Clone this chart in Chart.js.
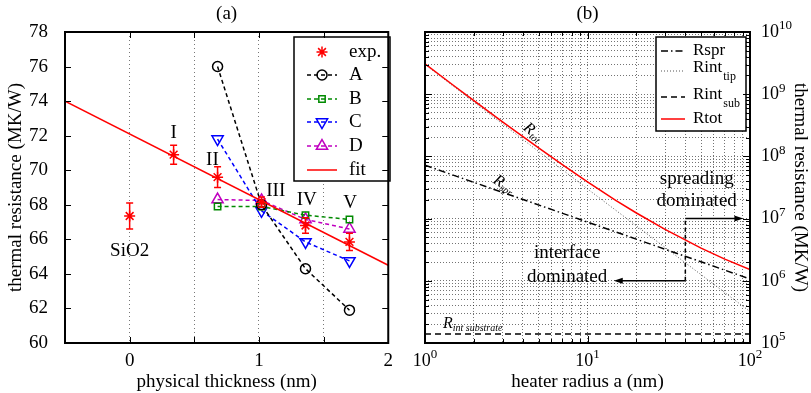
<!DOCTYPE html>
<html lang="en">
<head>
<meta charset="UTF-8">
<title>Thermal resistance</title>
<script src="https://cdn.jsdelivr.net/npm/chart.js"></script>
<style>
    body { margin: 0; background: #fff; }
    #wrap { position: relative; width: 811px; height: 393px; }
    .panel { position: absolute; top: 0; height: 393px; }
    #pa { left: 0; width: 400px; }
    #pb { left: 400px; width: 411px; }
    canvas { display: block; }
</style>
</head>
<body>
<div id="wrap">
    <div class="panel" id="pa"><canvas id="chartA"></canvas></div>
    <div class="panel" id="pb"><canvas id="chartB"></canvas></div>
</div>
<script>
// ---------- panel (a): thermal resistance vs physical thickness ----------
const expX = [0, 0.34, 0.68, 1.02, 1.36, 1.70];
const expR = [67.35, 70.9, 69.6, 68.15, 66.8, 65.85];
const expErr = [0.75, 0.55, 0.6, 0.3, 0.45, 0.5];

const modelX = [0.68, 1.02, 1.36, 1.70];
const modelA = [76.0, 68.0, 64.3, 61.9];
const modelB = [67.9, 67.9, 67.4, 67.15];
const modelC = [71.8, 67.65, 65.85, 64.75];
const modelD = [68.3, 68.25, 67.15, 66.6];

const fitX = [-0.5, 2];
const fitR = [74.0, 64.5];

const thickTicks = [-0.5, 0, 0.5, 1, 1.5, 2];
const thickLabels = ['', '0', '', '1', '', '2'];
const resTicks = [60, 62, 64, 66, 68, 70, 72, 74, 76, 78];

// ---------- panel (b): resistance vs heater radius ----------
const radius = [1, 1.5, 2, 3, 5, 7, 10, 15, 20, 30, 50, 70, 100];
const rTot = [3.07e9, 1.38e9, 7.9e8, 3.6e8, 1.37e8, 7.35e7, 3.9e7, 1.95e7, 1.23e7, 6.7e6, 3.35e6, 2.23e6, 1.51e6];
const sprRadius = [1, 10, 100];
const rSpr = [7.2e7, 8.8e6, 1.07e6];
const tipRadius = [1, 10, 100];
const rTip = [3.0e9, 3.0e7, 3.2e5];
const subRadius = [1, 100];
const rSub = [1.4e5, 1.4e5];

const radiusDecades = [1, 10, 100];
const resDecades = [1e5, 1e6, 1e7, 1e8, 1e9, 1e10];
const minorSteps = [2, 3, 4, 5, 6, 7, 8, 9];

const FONT = "'Liberation Serif', 'Times New Roman', serif";
const RED = '#ff0000', GREEN = '#008a00', BLUE = '#0000ff', MAGENTA = '#c000c0';

function pts(xs, ys) {
    return xs.map((x, i) => ({ x: x, y: ys[i] }));
}

function logTicks(decades) {
    const out = [];
    decades.forEach((d, i) => {
        out.push({ value: d });
        if (i < decades.length - 1) {
            minorSteps.forEach(m => out.push({ value: d * m }));
        }
    });
    return out;
}

function isDecade(v) {
    const l = Math.log10(v);
    return Math.abs(l - Math.round(l)) < 1e-9;
}

// frame + inward tick marks on all four sides
function makeFrame(tickLen) {
    return {
        id: 'frame',
        afterDraw(chart) {
            const { ctx, chartArea: a } = chart;
            const xs = chart.scales.x, ys = chart.scales.y;
            ctx.save();
            ctx.strokeStyle = '#000';
            ctx.lineWidth = 1;
            ctx.beginPath();
            xs.ticks.forEach(t => {
                const len = tickLen(xs, t.value);
                const px = Math.round(xs.getPixelForValue(t.value)) + 0.5;
                ctx.moveTo(px, a.bottom); ctx.lineTo(px, a.bottom - len);
                ctx.moveTo(px, a.top); ctx.lineTo(px, a.top + len);
            });
            ys.ticks.forEach(t => {
                const len = tickLen(ys, t.value);
                const py = Math.round(ys.getPixelForValue(t.value)) + 0.5;
                ctx.moveTo(a.left, py); ctx.lineTo(a.left + len, py);
                ctx.moveTo(a.right, py); ctx.lineTo(a.right - len, py);
            });
            ctx.stroke();
            ctx.lineWidth = 2;
            ctx.strokeRect(a.left, a.top, a.right - a.left, a.bottom - a.top);
            ctx.restore();
        }
    };
}

function drawMarker(ctx, ds, x, y) {
    if (!ds.pointRadius) return;
    ctx.save();
    ctx.strokeStyle = ds.borderColor;
    ctx.fillStyle = ds.pointBackgroundColor || 'rgba(0,0,0,0)';
    ctx.lineWidth = ds.pointBorderWidth || 1.5;
    ctx.setLineDash([]);
    Chart.helpers.drawPoint(ctx, {
        pointStyle: ds.pointStyle,
        rotation: ds.pointRotation || 0,
        radius: ds.pointRadius,
        borderWidth: ds.pointBorderWidth || 1.5
    }, x, y);
    ctx.restore();
}

// boxed legend in the gnuplot way: sample line (with marker) then text
function makeLegend(box, rows) {
    return {
        id: 'boxLegend',
        afterDatasetsDraw(chart) {
            const ctx = chart.ctx;
            ctx.save();
            ctx.fillStyle = '#fff';
            ctx.fillRect(box.x, box.y, box.w, box.h);
            ctx.strokeStyle = '#000';
            ctx.lineWidth = 1.5;
            ctx.strokeRect(box.x, box.y, box.w, box.h);
            rows.forEach(r => {
                const ds = chart.data.datasets.find(d => d.label === r.label);
                if (ds.showLine !== false) {
                    ctx.save();
                    ctx.strokeStyle = ds.borderColor;
                    ctx.lineWidth = ds.borderWidth;
                    ctx.setLineDash(ds.borderDash || []);
                    ctx.beginPath();
                    ctx.moveTo(box.lineX0, r.lineY);
                    ctx.lineTo(box.lineX1, r.lineY);
                    ctx.stroke();
                    ctx.restore();
                }
                drawMarker(ctx, ds, (box.lineX0 + box.lineX1) / 2, r.lineY);
                ctx.fillStyle = '#000';
                ctx.textAlign = 'left';
                ctx.textBaseline = 'middle';
                ctx.font = box.font + 'px ' + FONT;
                ctx.fillText(r.text, box.textX, r.textY);
                if (r.sub) {
                    const w = ctx.measureText(r.text).width;
                    ctx.font = '12px ' + FONT;
                    ctx.fillText(r.sub, box.textX + w + 1, r.textY + 9);
                }
            });
            ctx.restore();
        }
    };
}

function panelTitle(text) {
    return {
        id: 'panelTitle',
        afterDraw(chart) {
            const { ctx, chartArea: a } = chart;
            ctx.save();
            ctx.fillStyle = '#000';
            ctx.font = '19px ' + FONT;
            ctx.textAlign = 'center';
            ctx.textBaseline = 'middle';
            ctx.fillText(text, (a.left + a.right) / 2, 14);
            ctx.restore();
        }
    };
}

// ---------- chart (a) ----------
const errorBars = {
    id: 'errorBars',
    afterDatasetsDraw(chart) {
        const { ctx, scales: { x, y } } = chart;
        ctx.save();
        ctx.strokeStyle = RED;
        ctx.lineWidth = 1.5;
        ctx.beginPath();
        expX.forEach((v, i) => {
            const px = x.getPixelForValue(v);
            const lo = y.getPixelForValue(expR[i] - expErr[i]);
            const hi = y.getPixelForValue(expR[i] + expErr[i]);
            ctx.moveTo(px, lo); ctx.lineTo(px, hi);
            ctx.moveTo(px - 3.5, lo); ctx.lineTo(px + 3.5, lo);
            ctx.moveTo(px - 3.5, hi); ctx.lineTo(px + 3.5, hi);
        });
        ctx.stroke();
        ctx.restore();
    }
};

const sampleNames = {
    id: 'sampleNames',
    afterDatasetsDraw(chart) {
        const { ctx, scales: { x, y } } = chart;
        const names = [
            { t: 'SiO2', x: 0, y: 65.35 },
            { t: 'I', x: 0.34, y: 72.15 },
            { t: 'II', x: 0.64, y: 70.6 },
            { t: 'III', x: 1.13, y: 68.8 },
            { t: 'IV', x: 1.37, y: 68.3 },
            { t: 'V', x: 1.705, y: 68.12 }
        ];
        ctx.save();
        ctx.fillStyle = '#000';
        ctx.font = '19px ' + FONT;
        ctx.textAlign = 'center';
        ctx.textBaseline = 'middle';
        names.forEach(n => ctx.fillText(n.t, x.getPixelForValue(n.x), y.getPixelForValue(n.y)));
        ctx.restore();
    }
};

const dashed = { borderWidth: 1.5, borderDash: [4, 3], pointRadius: 5, pointBorderWidth: 1.5, pointBackgroundColor: 'rgba(0,0,0,0)' };

new Chart(document.getElementById('chartA'), {
    type: 'line',
    data: {
        datasets: [
            { label: 'exp.', data: pts(expX, expR), showLine: false, pointStyle: 'star', pointRadius: 5.5,
              pointBorderWidth: 1.5, borderColor: RED, backgroundColor: RED, order: 0 },
            Object.assign({ label: 'A', data: pts(modelX, modelA), borderColor: '#000', pointStyle: 'circle', order: 2 }, dashed),
            Object.assign({ label: 'B', data: pts(modelX, modelB), borderColor: GREEN, pointStyle: 'rect', order: 2 }, dashed, { pointRadius: 4.5 }),
            Object.assign({ label: 'C', data: pts(modelX, modelC), borderColor: BLUE, pointStyle: 'triangle', pointRotation: 180, order: 2 }, dashed, { pointRadius: 6.5 }),
            Object.assign({ label: 'D', data: pts(modelX, modelD), borderColor: MAGENTA, pointStyle: 'triangle', order: 2 }, dashed, { pointRadius: 6.5 }),
            { label: 'fit', data: pts(fitX, fitR), borderColor: RED, borderWidth: 1.5, pointRadius: 0, order: 1 }
        ]
    },
    options: {
        responsive: true,
        maintainAspectRatio: false,
        animation: false,
        events: [],
        layout: { padding: { top: 32, right: 7, left: 0, bottom: 0 } },
        plugins: { legend: { display: false }, tooltip: { enabled: false } },
        scales: {
            x: {
                type: 'linear', min: -0.5, max: 2,
                afterBuildTicks: s => { s.ticks = thickTicks.map(v => ({ value: v })); },
                afterFit: s => { s.height = 50; },
                ticks: { callback: v => thickLabels[thickTicks.indexOf(v)], font: { family: FONT, size: 19 },
                         color: '#000', padding: 7, maxRotation: 0, autoSkip: false },
                grid: { drawTicks: false, lineWidth: 1,
                        color: c => (c.tick && (c.tick.value === -0.5 || c.tick.value === 2)) ? 'rgba(0,0,0,0)' : '#777' },
                border: { display: false, dash: [1, 3] },
                title: { display: true, text: 'physical thickness (nm)', color: '#000',
                         font: { family: FONT, size: 19 }, padding: { top: 0, bottom: 0 } }
            },
            y: {
                min: 60, max: 78,
                afterBuildTicks: s => { s.ticks = resTicks.map(v => ({ value: v })); },
                afterFit: s => { s.width = 65; },
                ticks: { font: { family: FONT, size: 19 }, color: '#000', padding: 9 },
                grid: { display: false },
                border: { display: false },
                title: { display: true, text: 'thermal resistance (MK/W)', color: '#000',
                         font: { family: FONT, size: 19 }, padding: { top: 5, bottom: 0 } }
            }
        }
    },
    plugins: [
        errorBars, sampleNames,
        makeLegend({ x: 294, y: 37, w: 96, h: 144, lineX0: 307, lineX1: 337, textX: 349, font: 19 }, [
            { label: 'exp.', text: 'exp.', lineY: 52, textY: 52 },
            { label: 'A', text: 'A', lineY: 75, textY: 75 },
            { label: 'B', text: 'B', lineY: 99, textY: 99 },
            { label: 'C', text: 'C', lineY: 122, textY: 122 },
            { label: 'D', text: 'D', lineY: 146, textY: 146 },
            { label: 'fit', text: 'fit', lineY: 170, textY: 170 }
        ]),
        makeFrame((s, v) => 6),
        panelTitle('(a)')
    ]
});

// ---------- chart (b) ----------
function drawPow(ctx, exp, x, y, align) {
    ctx.font = '18px ' + FONT;
    const wb = ctx.measureText('10').width;
    ctx.font = '13px ' + FONT;
    const we = ctx.measureText(exp).width;
    const x0 = align === 'center' ? x - (wb + we) / 2 : x;
    ctx.textAlign = 'left';
    ctx.textBaseline = 'middle';
    ctx.font = '18px ' + FONT;
    ctx.fillText('10', x0, y);
    ctx.font = '13px ' + FONT;
    ctx.fillText(exp, x0 + wb, y - 6);
}

const powLabels = {
    id: 'powLabels',
    afterDraw(chart) {
        const { ctx, chartArea: a, scales: { x, y } } = chart;
        ctx.save();
        ctx.fillStyle = '#000';
        radiusDecades.forEach(v => drawPow(ctx, String(Math.round(Math.log10(v))), x.getPixelForValue(v), a.bottom + 18, 'center'));
        resDecades.forEach(v => drawPow(ctx, String(Math.round(Math.log10(v))), a.right + 11, y.getPixelForValue(v), 'left'));
        ctx.restore();
    }
};

function arrow(ctx, x0, y0, x1, y1) {
    const ang = Math.atan2(y1 - y0, x1 - x0);
    ctx.beginPath();
    ctx.moveTo(x0, y0);
    ctx.lineTo(x1 - 6 * Math.cos(ang), y1 - 6 * Math.sin(ang));
    ctx.stroke();
    ctx.beginPath();
    ctx.moveTo(x1, y1);
    ctx.lineTo(x1 - 9 * Math.cos(ang) + 3 * Math.sin(ang), y1 - 9 * Math.sin(ang) - 3 * Math.cos(ang));
    ctx.lineTo(x1 - 9 * Math.cos(ang) - 3 * Math.sin(ang), y1 - 9 * Math.sin(ang) + 3 * Math.cos(ang));
    ctx.closePath();
    ctx.fill();
}

function rLabel(ctx, x, y, sub, deg) {
    ctx.save();
    ctx.translate(x, y);
    ctx.rotate(deg * Math.PI / 180);
    ctx.font = 'italic 16px ' + FONT;
    const wr = ctx.measureText('R').width;
    ctx.font = 'italic 10px ' + FONT;
    const ws = ctx.measureText(sub).width;
    const x0 = -(wr + ws) / 2;
    ctx.textAlign = 'left';
    ctx.textBaseline = 'middle';
    ctx.font = 'italic 16px ' + FONT;
    ctx.fillText('R', x0, 0);
    ctx.font = 'italic 10px ' + FONT;
    ctx.fillText(sub, x0 + wr, 4);
    ctx.restore();
}

const regimeNotes = {
    id: 'regimeNotes',
    afterDatasetsDraw(chart) {
        const { ctx, scales: { x, y } } = chart;
        const X = v => x.getPixelForValue(v), Y = v => y.getPixelForValue(v);
        const split = 40;
        ctx.save();
        ctx.strokeStyle = '#000';
        ctx.fillStyle = '#000';
        ctx.lineWidth = 1.5;
        ctx.setLineDash([4, 3]);
        ctx.beginPath();
        ctx.moveTo(X(split), Y(1e6));
        ctx.lineTo(X(split), Y(1e7));
        ctx.stroke();
        ctx.setLineDash([]);
        arrow(ctx, X(split), Y(1e7), X(91), Y(1e7));
        arrow(ctx, X(split), Y(1e6), X(14.5), Y(1e6));

        ctx.font = '19px ' + FONT;
        ctx.textAlign = 'center';
        ctx.textBaseline = 'middle';
        ctx.fillText('spreading', X(47), Y(4.4e7));
        ctx.fillText('dominated', X(47), Y(1.95e7));
        ctx.fillText('interface', X(7.5), Y(2.83e6));
        ctx.fillText('dominated', X(7.5), Y(1.16e6));

        rLabel(ctx, X(4.62), Y(2.44e8), 'tot', 40);
        rLabel(ctx, X(3.06), Y(3.5e7), 'spr', 33);

        ctx.textAlign = 'left';
        ctx.textBaseline = 'alphabetic';
        ctx.font = 'italic 16px ' + FONT;
        const px = X(1.29), py = Y(1.75e5);
        ctx.fillText('R', px, py);
        const wr = ctx.measureText('R').width;
        ctx.font = 'italic 10px ' + FONT;
        ctx.fillText('int substrate', px + wr, py + 3);
        ctx.restore();
    }
};

const GRIDB = 'rgba(0,0,0,0.55)';

new Chart(document.getElementById('chartB'), {
    type: 'line',
    data: {
        datasets: [
            { label: 'Rspr', data: pts(sprRadius, rSpr), borderColor: '#000', borderWidth: 1.5,
              borderDash: [7, 3, 1.5, 3], pointRadius: 0, order: 1 },
            { label: 'Rint_tip', data: pts(tipRadius, rTip), borderColor: '#555', borderWidth: 1,
              borderDash: [1, 2], pointRadius: 0, order: 2 },
            { label: 'Rint_sub', data: pts(subRadius, rSub), borderColor: '#000', borderWidth: 1.5,
              borderDash: [6, 4], pointRadius: 0, order: 1 },
            { label: 'Rtot', data: pts(radius, rTot), borderColor: RED, borderWidth: 1.5,
              pointRadius: 0, order: 0 }
        ]
    },
    options: {
        responsive: true,
        maintainAspectRatio: false,
        animation: false,
        events: [],
        layout: { padding: { top: 32, right: 0, left: 25, bottom: 0 } },
        plugins: { legend: { display: false }, tooltip: { enabled: false } },
        scales: {
            x: {
                type: 'logarithmic', min: 1, max: 100,
                afterBuildTicks: s => { s.ticks = logTicks(radiusDecades); },
                afterFit: s => { s.height = 50; },
                ticks: { display: false },
                grid: { drawTicks: false, color: GRIDB, lineWidth: 1 },
                border: { display: false, dash: [1, 2] },
                title: { display: true, text: 'heater radius a (nm)', color: '#000',
                         font: { family: FONT, size: 19 }, padding: { top: 0, bottom: 0 } }
            },
            y: {
                type: 'logarithmic', position: 'right', min: 1e5, max: 1e10,
                afterBuildTicks: s => { s.ticks = logTicks(resDecades); },
                afterFit: s => { s.width = 61; },
                ticks: { display: false },
                grid: { drawTicks: false, color: GRIDB, lineWidth: 1 },
                border: { display: false, dash: [1, 2] },
                title: { display: true, text: 'thermal resistance (MK/W)', color: '#000',
                         font: { family: FONT, size: 19 }, padding: { top: 0, bottom: 0 } }
            }
        }
    },
    plugins: [
        regimeNotes,
        makeLegend({ x: 256, y: 37, w: 90, h: 94, lineX0: 261, lineX1: 285, textX: 293, font: 17 }, [
            { label: 'Rspr', text: 'Rspr', lineY: 51, textY: 51 },
            { label: 'Rint_tip', text: 'Rint', sub: 'tip', lineY: 71, textY: 68 },
            { label: 'Rint_sub', text: 'Rint', sub: 'sub', lineY: 97, textY: 95 },
            { label: 'Rtot', text: 'Rtot', lineY: 119, textY: 119 }
        ]),
        makeFrame((s, v) => isDecade(v) ? 7 : 4),
        powLabels,
        panelTitle('(b)')
    ]
});
</script>
</body>
</html>
